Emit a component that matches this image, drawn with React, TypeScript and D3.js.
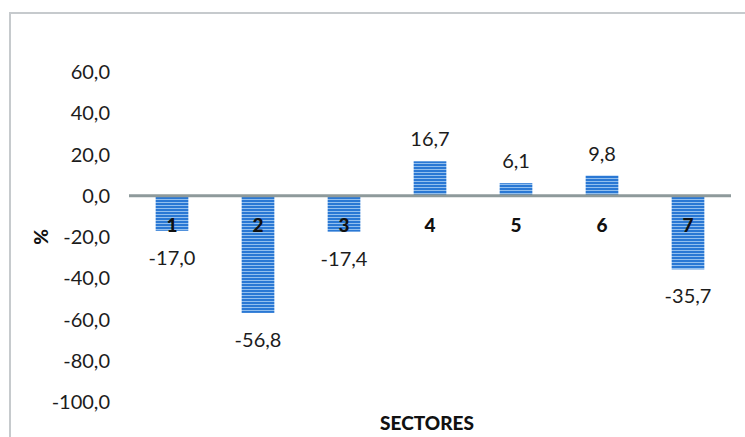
import React, { useEffect, useRef } from "react";
import * as d3 from "d3";

const sectors = ["1", "2", "3", "4", "5", "6", "7"];
const changes = [-17.0, -56.8, -17.4, 16.7, 6.1, 9.8, -35.7];
const yTicks = [60, 40, 20, 0, -20, -40, -60, -80, -100];

const width = 745;
const height = 437;
const plot = { left: 129, right: 731, top: 72, bottom: 402 };

const fmt = (v: number) => d3.format(".1f")(v).replace(".", ",").replace("−", "-");

export default function App() {
  const ref = useRef<SVGSVGElement>(null);

  useEffect(() => {
    const svg = d3.select(ref.current);
    svg.selectAll("*").remove();

    const font = "Lato, 'Open Sans', sans-serif";

    // striped fill like the original bars
    const defs = svg.append("defs");
    const pat = defs.append("pattern")
      .attr("id", "stripes")
      .attr("patternUnits", "userSpaceOnUse")
      .attr("width", 4)
      .attr("height", 3);
    pat.append("rect").attr("width", 4).attr("height", 3).attr("fill", "#2a78d4");
    pat.append("rect").attr("y", 1).attr("width", 4).attr("height", 1).attr("fill", "#92bfee");

    // frame
    svg.append("rect")
      .attr("x", 10).attr("y", 13)
      .attr("width", 760).attr("height", 440)
      .attr("fill", "white")
      .attr("stroke", "#c6cacd")
      .attr("stroke-width", 2);

    const x = d3.scaleBand<string>()
      .domain(sectors)
      .range([plot.left, plot.right])
      .paddingInner(0.62)
      .paddingOuter(0.31);

    const y = d3.scaleLinear()
      .domain([-100, 60])
      .range([plot.bottom, plot.top]);

    // y tick labels
    svg.append("g")
      .selectAll("text")
      .data(yTicks)
      .join("text")
      .attr("x", 110)
      .attr("y", d => y(d))
      .attr("dy", "0.35em")
      .attr("text-anchor", "end")
      .style("font", `20px ${font}`)
      .attr("fill", "#1c1c1c")
      .text(d => fmt(d));

    // bars
    svg.append("g")
      .selectAll("rect")
      .data(changes)
      .join("rect")
      .attr("x", (d, i) => x(sectors[i])!)
      .attr("width", x.bandwidth())
      .attr("y", d => y(Math.max(0, d)))
      .attr("height", d => Math.abs(y(d) - y(0)))
      .attr("fill", "url(#stripes)");

    // zero line
    svg.append("line")
      .attr("x1", plot.left).attr("x2", plot.right)
      .attr("y1", y(0)).attr("y2", y(0))
      .attr("stroke", "#8e9a9b")
      .attr("stroke-width", 3);

    // category labels next to axis
    svg.append("g")
      .selectAll("text")
      .data(sectors)
      .join("text")
      .attr("x", d => x(d)! + x.bandwidth() / 2)
      .attr("y", y(0) + 30)
      .attr("dy", "0.35em")
      .attr("text-anchor", "middle")
      .style("font", `900 19px ${font}`)
      .attr("fill", "#111")
      .text(d => d);

    // value labels
    svg.append("g")
      .selectAll("text")
      .data(changes)
      .join("text")
      .attr("x", (d, i) => x(sectors[i])! + x.bandwidth() / 2)
      .attr("y", d => d < 0 ? y(d) + 27 : y(d) - 22)
      .attr("dy", "0.35em")
      .attr("text-anchor", "middle")
      .style("font", `20px ${font}`)
      .attr("fill", "#1c1c1c")
      .text(d => fmt(d));

    // axis titles
    svg.append("text")
      .attr("transform", "translate(41," + y(-20) + ")rotate(-90)")
      .attr("dy", "0.35em")
      .attr("text-anchor", "middle")
      .style("font", `900 19px ${font}`)
      .attr("fill", "#111")
      .text("%");

    svg.append("text")
      .attr("x", 427)
      .attr("y", 423)
      .attr("dy", "0.35em")
      .attr("text-anchor", "middle")
      .style("font", `900 19px ${font}`)
      .attr("fill", "#111")
      .text("SECTORES");
  }, []);

  return (
    <svg
      ref={ref}
      width={width}
      height={height}
      style={{ position: "absolute", left: 0, top: 0, background: "white" }}
    />
  );
}
